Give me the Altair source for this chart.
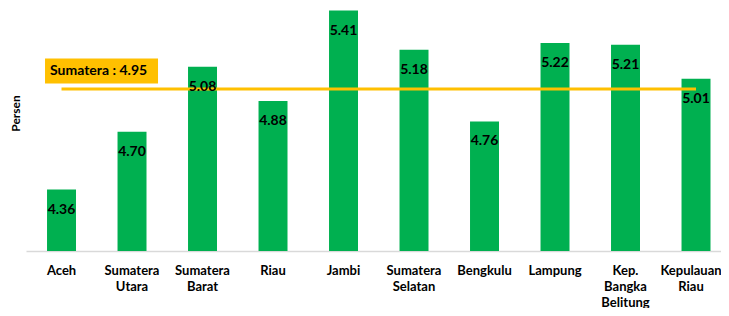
import altair as alt
import pandas as pd

provinces = ["Aceh", "Sumatera Utara", "Sumatera Barat", "Riau", "Jambi",
             "Sumatera Selatan", "Bengkulu", "Lampung", "Kep. Bangka Belitung",
             "Kepulauan Riau"]
values = [4.36, 4.70, 5.08, 4.88, 5.41, 5.18, 4.76, 5.22, 5.21, 5.01]
sumatera_label = "Sumatera : 4.95"
sumatera_value = 4.95
y_min = 4.0

df = pd.DataFrame({"prov": provinces, "val": values,
                   "lbl": [f"{v:.2f}" for v in values]})
ref = pd.DataFrame({"start": [provinces[0]], "end": [provinces[-1]],
                    "val": [sumatera_value], "lbl": [sumatera_label]})

FONT = "Lato"
xscale = alt.Scale(domain=provinces, paddingInner=0.589, paddingOuter=0.2236, align=0.667)
yscale = alt.Scale(domain=[y_min, 5.425], nice=False, zero=False)

x = alt.X("prov:N", scale=xscale, axis=alt.Axis(
    title=None, labelExpr="split(datum.value, ' ')", labelAngle=0,
    labelFont=FONT, labelFontWeight="bold", labelFontSize=13, labelColor="#000000",
    labelLineHeight=16, labelPadding=13, ticks=False, labelOverlap=False,
    labelOffset=alt.expr("datum.value == 'Kepulauan Riau' ? -5 : 0"),
    domainColor="#d9d9d9", domainWidth=1.5))
y = alt.Y("val:Q", scale=yscale, axis=alt.Axis(
    title="Persen", labels=False, ticks=False, domain=False, grid=False,
    titleFont=FONT, titleFontWeight="bold", titleFontSize=12, titleColor="#000000",
    titleX=-11, titleY=105, titleAlign="center", titleBaseline="middle"))

bars = alt.Chart(df).mark_bar(color="#00B050").encode(
    x=x, y=y, y2=alt.datum(y_min))
rule = alt.Chart(ref).mark_rule(color="#FFC000", strokeWidth=3).encode(
    x=alt.X("start:N", scale=xscale), x2="end:N", y=alt.Y("val:Q", scale=yscale))
box = alt.Chart(ref).mark_point(
    shape="M-1,-0.221L1,-0.221L1,0.221L-1,0.221Z", size=12769, filled=True,
    color="#FFC000", opacity=1, xOffset=40, yOffset=-18).encode(
    x=alt.X("start:N", scale=xscale), y=alt.Y("val:Q", scale=yscale))
boxtext = alt.Chart(ref).mark_text(
    align="left", baseline="middle", dx=-11.5, dy=-18, font=FONT,
    fontWeight="bold", fontSize=14, color="#000000").encode(
    x=alt.X("start:N", scale=xscale), y=alt.Y("val:Q", scale=yscale), text="lbl:N")
labels = alt.Chart(df).mark_text(
    baseline="middle", dy=20, font=FONT, fontWeight="bold", fontSize=14,
    color="#000000").encode(x=alt.X("prov:N", scale=xscale),
                            y=alt.Y("val:Q", scale=yscale), text="lbl:N")

chart = alt.layer(bars, rule, box, boxtext, labels).properties(
    width=695, height=243,
    autosize=alt.AutoSizeParams(type="none"),
    padding={"left": 18, "top": 0, "right": 0, "bottom": 57},
).configure_view(stroke=None)

chart.save("out.html", embed_options={"renderer": "svg", "actions": False})
